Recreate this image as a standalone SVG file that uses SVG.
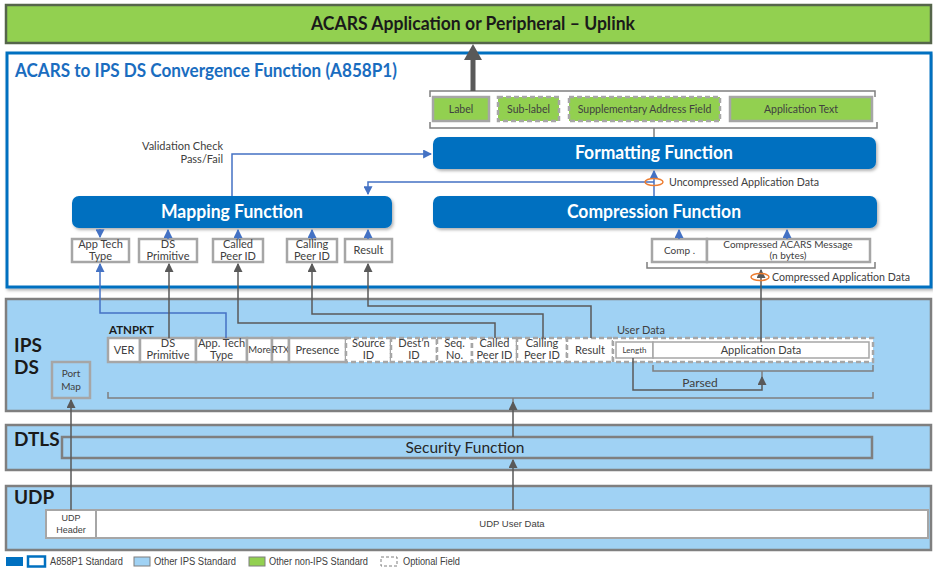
<svg xmlns="http://www.w3.org/2000/svg" width="933" height="573" viewBox="0 0 933 573">
<style>
.t{font-family:Lato,"Liberation Sans",sans-serif;fill:#404040}
.n{font-family:"Liberation Sans",Arial,sans-serif;fill:#404040}
.b{font-weight:bold}
.fn{fill:#0070c0}
.fnt{font-family:Lato,"Liberation Sans",sans-serif;font-weight:bold;font-size:18px;fill:#fff}
.fld{fill:#fff;stroke:#a6a6a6;stroke-width:2.5}
.dsh{stroke-dasharray:5 3}
.grn{fill:#92d050;stroke:#a6a6a6;stroke-width:2.5}
.lay{fill:#a0d2f4;stroke:#7f7f7f;stroke-width:2.5}
.bl{fill:none;stroke:#4472c4;stroke-width:1.5}
.gr{fill:none;stroke:#595959;stroke-width:1.5}
.br{fill:none;stroke:#7f7f7f;stroke-width:1.5}
.or{fill:none;stroke:#ed7d31;stroke-width:1.5}
</style>
<defs>
<marker id="ab" viewBox="0 0 8 8" refX="7" refY="4" markerWidth="6" markerHeight="6" orient="auto"><path d="M0,0 L8,4 L0,8 z" fill="#4472c4"/></marker>
<marker id="ag" viewBox="0 0 8 8" refX="7" refY="4" markerWidth="6" markerHeight="6" orient="auto"><path d="M0,0 L8,4 L0,8 z" fill="#595959"/></marker>
<filter id="sh" x="-5%" y="-20%" width="110%" height="150%"><feDropShadow dx="1.5" dy="2" stdDeviation="1.5" flood-color="#000" flood-opacity="0.3"/></filter>
</defs>
<rect width="933" height="573" fill="#fff"/>

<g id="uplink">
<rect x="6" y="5" width="925" height="38" fill="#92d050" stroke="#55654a" stroke-width="2.5"/>
<text class="t b" x="473" y="30" font-size="18" style="fill:#1a1a1a" text-anchor="middle" textLength="324" lengthAdjust="spacingAndGlyphs">ACARS Application or Peripheral – Uplink</text>
</g>

<g id="convergence">
<rect x="7" y="53" width="924" height="234" fill="#fff" stroke="#0070c0" stroke-width="3" filter="url(#sh)"/>
<text class="t b" x="15" y="77" font-size="18.5" style="fill:#1a6dc0" textLength="382" lengthAdjust="spacingAndGlyphs">ACARS to IPS DS Convergence Function (A858P1)</text>
</g>

<g id="ipsds">
<rect class="lay" x="6" y="299" width="925" height="112"/>
<text class="t b" x="14" y="352" font-size="19" style="fill:#1a1a1a">IPS</text>
<text class="t b" x="14" y="374" font-size="19" style="fill:#1a1a1a">DS</text>
</g>
<g id="dtls">
<rect class="lay" x="6" y="425" width="925" height="45"/>
<text class="t b" x="14" y="446" font-size="19" style="fill:#1a1a1a">DTLS</text>
</g>
<g id="udp">
<rect class="lay" x="6" y="486" width="925" height="64"/>
<text class="t b" x="14" y="504" font-size="19" style="fill:#1a1a1a">UDP</text>
</g>

<g id="fields-top">
<g id="f-label"><rect class="grn" x="433" y="97" width="56" height="24"/><text class="t" x="461" y="113" font-size="10.5" text-anchor="middle">Label</text></g>
<g id="f-sublabel"><rect class="grn dsh" x="498" y="97" width="61" height="24"/><text class="t" x="528.5" y="113" font-size="10.5" text-anchor="middle">Sub-label</text></g>
<g id="f-supp"><rect class="grn dsh" x="569" y="97" width="151" height="24"/><text class="t" x="644.5" y="113" font-size="10.5" text-anchor="middle">Supplementary Address Field</text></g>
<g id="f-apptext"><rect class="grn" x="730" y="97" width="142" height="24"/><text class="t" x="801" y="113" font-size="10.5" text-anchor="middle">Application Text</text></g>
</g>

<g id="formatting">
<rect class="fn" x="433" y="137" width="443" height="32" rx="7" filter="url(#sh)"/>
<text class="fnt" x="654" y="159" text-anchor="middle" textLength="158" lengthAdjust="spacingAndGlyphs">Formatting Function</text>
</g>
<g id="mapping">
<rect class="fn" x="72" y="196" width="320" height="32" rx="7" filter="url(#sh)"/>
<text class="fnt" x="232" y="218" text-anchor="middle" textLength="142" lengthAdjust="spacingAndGlyphs">Mapping Function</text>
</g>
<g id="compression">
<rect class="fn" x="433" y="196" width="444" height="32" rx="7" filter="url(#sh)"/>
<text class="fnt" x="654" y="218" text-anchor="middle" textLength="174" lengthAdjust="spacingAndGlyphs">Compression Function</text>
</g>

<g id="validation-label">
<text class="t" x="223" y="150" font-size="11" text-anchor="end">Validation Check</text>
<text class="t" x="223" y="163" font-size="11" text-anchor="end">Pass/Fail</text>
</g>

<g id="map-apptech"><rect class="fld" x="72" y="239" width="57" height="23"/><text class="t" x="100.5" y="248" font-size="11" text-anchor="middle">App Tech</text><text class="t" x="100.5" y="260" font-size="11" text-anchor="middle">Type</text></g>
<g id="map-dsprim"><rect class="fld" x="139" y="239" width="58" height="23"/><text class="t" x="168" y="248" font-size="11" text-anchor="middle">DS</text><text class="t" x="168" y="260" font-size="11" text-anchor="middle">Primitive</text></g>
<g id="map-called"><rect class="fld" x="213" y="239" width="50" height="23"/><text class="t" x="238" y="248" font-size="11" text-anchor="middle">Called</text><text class="t" x="238" y="260" font-size="11" text-anchor="middle">Peer ID</text></g>
<g id="map-calling"><rect class="fld" x="287" y="239" width="50" height="23"/><text class="t" x="312" y="248" font-size="11" text-anchor="middle">Calling</text><text class="t" x="312" y="260" font-size="11" text-anchor="middle">Peer ID</text></g>
<g id="map-result"><rect class="fld" x="345" y="239" width="47" height="23"/><text class="t" x="368.5" y="254" font-size="11" text-anchor="middle">Result</text></g>

<g id="comp-fields">
<rect class="fld" x="652" y="239" width="55" height="23"/><text class="t" x="679.5" y="254" font-size="10" text-anchor="middle">Comp .</text>
<rect class="fld" x="707" y="239" width="163" height="23"/><text class="t" x="788" y="248" font-size="10" text-anchor="middle">Compressed ACARS Message</text><text class="t" x="788" y="259" font-size="10" text-anchor="middle">(n bytes)</text>
</g>

<g id="labels">
<text class="t" x="669" y="186" font-size="11.5" textLength="150" lengthAdjust="spacingAndGlyphs">Uncompressed Application Data</text>
<text class="t" x="772" y="281" font-size="11.5" textLength="138" lengthAdjust="spacingAndGlyphs">Compressed Application Data</text>
<text class="t b" x="109" y="334" font-size="11.5" style="fill:#1a1a1a">ATNPKT</text>
<text class="t" x="617" y="334" font-size="11">User Data</text>
<text class="t" x="700" y="387" font-size="12" text-anchor="middle">Parsed</text>
</g>

<g id="port-map"><rect x="52" y="362" width="38" height="36" fill="#a0d2f4" stroke="#a6a6a6" stroke-width="2.5"/><text class="t" x="71" y="377" font-size="10" text-anchor="middle">Port</text><text class="t" x="71" y="390" font-size="10" text-anchor="middle">Map</text></g>

<g id="atnpkt">
<g id="a-ver"><rect class="fld" x="108" y="338" width="32" height="24"/><text class="t" x="124" y="354" font-size="11" text-anchor="middle">VER</text></g>
<g id="a-dsprim"><rect class="fld" x="140" y="338" width="56" height="24"/><text class="t" x="168" y="347" font-size="11" text-anchor="middle">DS</text><text class="t" x="168" y="359" font-size="11" text-anchor="middle">Primitive</text></g>
<g id="a-apptech"><rect class="fld" x="196" y="338" width="51" height="24"/><text class="t" x="221.5" y="347" font-size="11" text-anchor="middle">App. Tech</text><text class="t" x="221.5" y="359" font-size="11" text-anchor="middle">Type</text></g>
<g id="a-more"><rect class="fld" x="247" y="338" width="25" height="24"/><text class="t" x="259.5" y="353" font-size="9.5" text-anchor="middle">More</text></g>
<g id="a-rtx"><rect class="fld" x="272" y="338" width="17" height="24"/><text class="t" x="280.5" y="353" font-size="9.5" text-anchor="middle">RTX</text></g>
<g id="a-presence"><rect class="fld" x="289" y="338" width="57" height="24"/><text class="t" x="317.5" y="354" font-size="11" text-anchor="middle">Presence</text></g>
<g id="a-source"><rect class="fld dsh" x="346" y="338" width="45" height="24"/><text class="t" x="368.5" y="347" font-size="11" text-anchor="middle">Source</text><text class="t" x="368.5" y="359" font-size="11" text-anchor="middle">ID</text></g>
<g id="a-dest"><rect class="fld dsh" x="391" y="338" width="46" height="24"/><text class="t" x="414" y="347" font-size="11" text-anchor="middle">Dest’n</text><text class="t" x="414" y="359" font-size="11" text-anchor="middle">ID</text></g>
<g id="a-seq"><rect class="fld dsh" x="437" y="338" width="35" height="24"/><text class="t" x="454.5" y="347" font-size="11" text-anchor="middle">Seq.</text><text class="t" x="454.5" y="359" font-size="11" text-anchor="middle">No.</text></g>
<g id="a-called"><rect class="fld dsh" x="472" y="338" width="45" height="24"/><text class="t" x="494.5" y="347" font-size="11" text-anchor="middle">Called</text><text class="t" x="494.5" y="359" font-size="11" text-anchor="middle">Peer ID</text></g>
<g id="a-calling"><rect class="fld dsh" x="517" y="338" width="50" height="24"/><text class="t" x="542" y="347" font-size="11" text-anchor="middle">Calling</text><text class="t" x="542" y="359" font-size="11" text-anchor="middle">Peer ID</text></g>
<g id="a-result"><rect class="fld dsh" x="567" y="338" width="46" height="24"/><text class="t" x="590" y="354" font-size="11" text-anchor="middle">Result</text></g>
<g id="a-userdata"><rect class="fld dsh" x="613" y="338" width="260" height="24"/>
<rect x="616" y="342" width="37" height="16" fill="#fff" stroke="#a6a6a6" stroke-width="1.5"/><text class="t" x="634.5" y="353" font-size="8" text-anchor="middle">Length</text>
<rect x="653" y="342" width="216" height="16" fill="#fff" stroke="#a6a6a6" stroke-width="1.5"/><text class="t" x="761" y="354" font-size="11" text-anchor="middle">Application Data</text></g>
</g>

<g id="security"><rect x="62" y="437" width="810" height="21" fill="#a0d2f4" stroke="#7f7f7f" stroke-width="2.5"/><text class="t" x="465" y="453" font-size="15" text-anchor="middle" style="fill:#262626" textLength="119" lengthAdjust="spacingAndGlyphs">Security Function</text></g>

<g id="udp-fields">
<rect x="46" y="510" width="50" height="28" fill="#fff" stroke="#a6a6a6" stroke-width="2"/><text class="n" x="71" y="521" font-size="9" text-anchor="middle">UDP</text><text class="n" x="71" y="533" font-size="9" text-anchor="middle">Header</text>
<rect x="96" y="510" width="832" height="28" fill="#fff" stroke="#a6a6a6" stroke-width="2"/><text class="n" x="512" y="527" font-size="9.5" text-anchor="middle">UDP User Data</text>
</g>

<g id="connectors">
<path class="bl" d="M232,196 V154 H431" marker-end="url(#ab)"/>
<path class="bl" d="M654,196 V171" marker-end="url(#ab)"/>
<path class="bl" d="M654,182 H368 V194" marker-end="url(#ab)"/>
<path class="bl" d="M100,229 V237" marker-end="url(#ab)"/>
<path class="bl" d="M168,239 V230" marker-end="url(#ab)"/>
<path class="bl" d="M238,239 V230" marker-end="url(#ab)"/>
<path class="bl" d="M312,239 V230" marker-end="url(#ab)"/>
<path class="bl" d="M368,239 V230" marker-end="url(#ab)"/>
<path class="bl" d="M679,239 V230" marker-end="url(#ab)"/>
<path class="bl" d="M787,239 V230" marker-end="url(#ab)"/>
<path class="bl" d="M226,338 V313 H100 V264" marker-end="url(#ab)"/>
<path class="gr" d="M169,338 V264" marker-end="url(#ag)"/>
<path class="gr" d="M495,338 V323 H238 V264" marker-end="url(#ag)"/>
<path class="gr" d="M543,338 V314 H312 V264" marker-end="url(#ag)"/>
<path class="gr" d="M591,338 V306 H368 V264" marker-end="url(#ag)"/>
<path class="gr" d="M761,342 V270" marker-end="url(#ag)"/>
<path class="gr" d="M633,358 V390 H762 V377" marker-end="url(#ag)"/>
<path class="gr" d="M513,437 V402" marker-end="url(#ag)"/>
<path class="gr" d="M513,510 V460" marker-end="url(#ag)"/>
<path class="gr" d="M71,510 V400" marker-end="url(#ag)"/>
<path class="br" d="M430,97 V91 H875 V97"/>
<path class="br" d="M430,122 V128 H877 V122 M654,128 V137"/>
<path class="br" d="M647,262 V268 H875 V262"/>
<path class="br" d="M653,365 V371 H873 V365 M762,371 V377"/>
<path class="br" d="M108,392 V398 H873 V392 M513,398 V402"/>
<path d="M473,91 V58" stroke="#595959" stroke-width="5" fill="none"/>
<path d="M464,60 L482,60 L473,44 z" fill="#595959"/>
<ellipse class="or" cx="654" cy="182" rx="9" ry="3.5"/>
<ellipse class="or" cx="760" cy="277" rx="9" ry="3.5"/>
</g>

<g id="legend">
<rect x="6" y="557" width="17" height="9" fill="#0070c0"/>
<rect x="28" y="556.5" width="17" height="10" fill="#fff" stroke="#0070c0" stroke-width="2.5"/>
<text class="n" x="50" y="565" font-size="10" textLength="73" lengthAdjust="spacingAndGlyphs">A858P1 Standard</text>
<rect x="134" y="557" width="16" height="9" fill="#a0d2f4" stroke="#7f7f7f" stroke-width="1"/>
<text class="n" x="154" y="565" font-size="10" textLength="82" lengthAdjust="spacingAndGlyphs">Other IPS Standard</text>
<rect x="249" y="557" width="16" height="9" fill="#92d050" stroke="#7f7f7f" stroke-width="1"/>
<text class="n" x="269" y="565" font-size="10" textLength="99" lengthAdjust="spacingAndGlyphs">Other non-IPS Standard</text>
<rect x="381" y="557" width="16" height="9" fill="none" stroke="#7f7f7f" stroke-width="1" stroke-dasharray="3 2"/>
<text class="n" x="403" y="565" font-size="10" textLength="57" lengthAdjust="spacingAndGlyphs">Optional Field</text>
</g>
</svg>
